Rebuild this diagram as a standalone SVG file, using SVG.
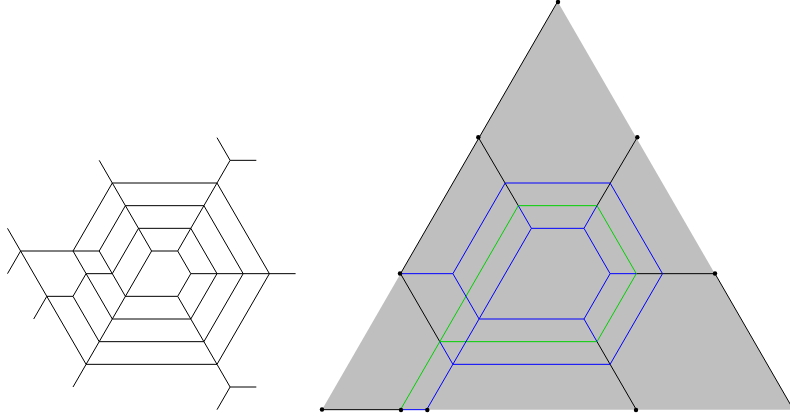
<svg xmlns="http://www.w3.org/2000/svg" width="790" height="420" viewBox="0 0 790 420">
<style>
path{fill:none;stroke-width:1;stroke-linejoin:miter;stroke-linecap:butt}
.k{stroke:#000}
.b{stroke:#0000ff}
.g{stroke:#00d000}
.t{fill:#bfbfbf;stroke:none}
circle{fill:#000}
</style>
<rect width="790" height="420" fill="#fff"/>
<g id="left-web">
<path class="k" d="M99.2 160.33L151.6 251M7.5 228.33L46.8 296.33L86.1 364.33L73 387
M7.5 273.67L20.6 251M33.7 319L46.8 296.33
M20.6 251H99.2M46.8 296.33H73M86.1 273.67H112.3
M112.3 183H217M125.4 205.67H203.9M138.5 228.33H190.8M151.6 251H177.7
M125.4 296.33H177.7M112.3 319H190.8M99.2 341.67H203.9M86.1 364.33H217
M73 251L112.3 183M99.2 251L125.4 205.67M112.3 273.67L138.5 228.33
M73 251L86.1 273.67L73 296.33L99.2 341.67M86.1 273.67L112.3 319M99.2 251L125.4 296.33
M86.1 364.33L151.6 251
M217 183L230.1 160.33L217 137.67M230.1 160.33H256.3
M217 183L177.7 251L190.8 273.67L177.7 296.33L217 364.33L230.1 387L217 409.67M230.1 387H256.3
M217 183L269.4 273.67L217 364.33
M203.9 205.67L243.2 273.67L203.9 341.67
M190.8 228.33L217 273.67L190.8 319
M190.8 273.67H295.6"/>
</g>
<g id="right-web">
<polygon class="t" points="557.6,1.6 322,409.67 793.4,409.67"/>
<path class="k" d="M557.6 1.6L400.5 273.67L439.8 341.67M322 409.67H400.5M478.3 137.3L518.3 205.67M637.3 137.3L597 205.67M636.3 273.67H715L793.4 409.67M597 341.67L636.3 409.67"/>
<path class="g" d="M400.5 409.67L518.3 205.67H597L636.3 273.67L597 341.67H439.8"/>
<path class="b" d="M505.2 183H610.1L662.5 273.67L610.1 364.33H452.9L439.8 341.67M505.2 183L452.9 273.67H400.5M452.9 273.67L479.1 319H584L610.1 273.67L584 228.33H531.4L518.3 205.67M531.4 228.33L426.7 409.67H400.5M584 228.33L597 205.67M610.1 273.67H636.3M584 319L597 341.67"/>
<circle cx="558" cy="2" r="2.2"/>
<circle cx="478.3" cy="137.3" r="2.2"/>
<circle cx="637.3" cy="137.3" r="2.2"/>
<circle cx="400" cy="273.5" r="2.2"/>
<circle cx="715" cy="273.5" r="2.2"/>
<circle cx="322" cy="409.5" r="2.2"/>
<circle cx="401" cy="410" r="2.2"/>
<circle cx="427.3" cy="410" r="2.2"/>
<circle cx="636" cy="410" r="2.2"/>
</g>
</svg>
